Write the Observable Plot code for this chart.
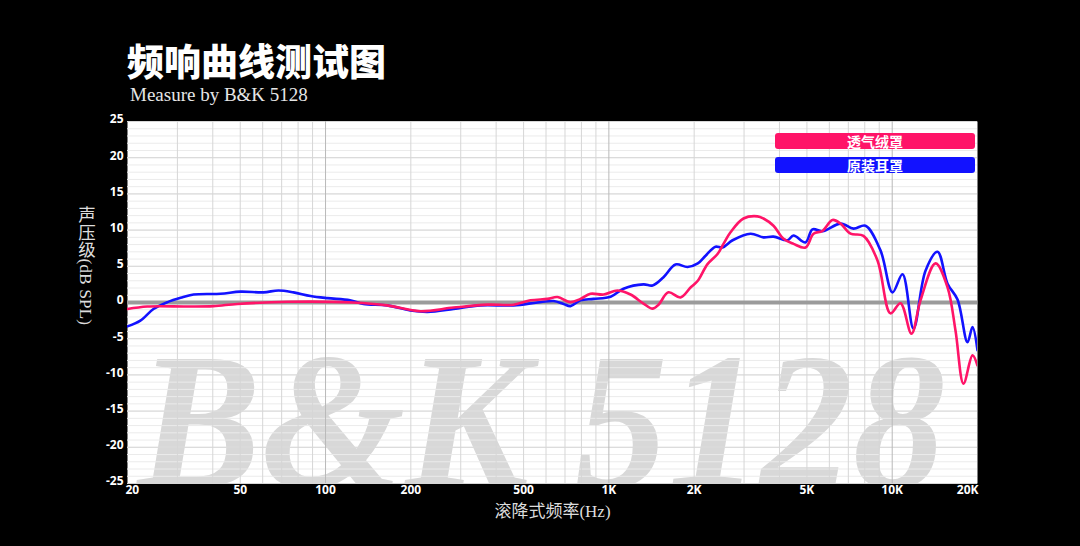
<!DOCTYPE html>
<html><head><meta charset="utf-8">
<script src="https://cdn.jsdelivr.net/npm/d3@7"></script>
<script src="https://cdn.jsdelivr.net/npm/@observablehq/plot@0.6"></script>
<style>
html,body{margin:0;padding:0;background:#000;}
#wrap{position:relative;width:1080px;height:546px;overflow:hidden;background:#000;}
#title{position:absolute;left:127px;top:42px;font:900 37px "Noto Sans CJK SC";color:#fff;line-height:1;white-space:nowrap;}
#sub{position:absolute;left:130px;top:85px;font:19px "Liberation Serif";color:#e6e6e6;line-height:1;white-space:nowrap;}
#chart{position:absolute;left:0;top:110px;}
#ylab{position:absolute;left:76px;top:206px;writing-mode:vertical-rl;font:17.5px "Liberation Serif","Noto Sans CJK SC";color:#ddd;line-height:1;white-space:nowrap;}
.leg{position:absolute;left:775px;width:200px;height:16px;border-radius:3px;color:#fff;font:bold 14px "Noto Sans CJK SC";text-align:center;line-height:16px;}
</style></head>
<body>
<div id="wrap">
  <div id="title">频响曲线测试图</div>
  <div id="sub">Measure by B&amp;K 5128</div>
  <div id="chart"></div>
  <div id="ylab">声压级(dB SPL)</div>
  <div class="leg" id="leg0" style="top:133px;"></div>
  <div class="leg" id="leg1" style="top:157px;"></div>
</div>
<script>
// ---- data ----
const seriesNames = ["透气绒罩", "原装耳罩"];
const seriesColors = ["#ff1468", "#1212ff"];

const redFreq = [20,23.5,32.6,40.2,48.9,73.4,125,165,216,283,373,461,529,607,659,732,794,861,958,1072,1192,1325,1426,1497,1623,1790,1946,2060,2229,2418,2538,2687,2986,3346,3513,3811,4134,4484,4944,5276,5676,6155,6570,7126,7918,8874,9862,10696,11696,12584,14222,15678,16730,17852,19204,20000];
const redDb   = [-0.9,-0.55,-0.55,-0.5,-0.2,0.1,0,-0.4,-1.2,-0.7,-0.3,-0.3,0.3,0.5,0.75,0.05,0.5,1.2,1.1,1.66,1.1,-0.15,-0.85,-0.3,1.4,0.7,2.1,3.0,5.3,6.7,8.1,9.7,11.6,11.9,11.6,10.6,8.8,8.1,7.6,9.5,9.9,11.4,10.9,9.5,9.2,5.8,-1.5,-0.1,-4.3,0.3,5.4,2.1,-3.9,-11.2,-7.3,-8.7];

const blueFreq = [20,22.2,24.7,27.7,30.8,34.2,42.6,50.1,60.4,68.2,77.1,88.5,101.6,122,136,165,199,229,283,352,461,560,638,692,732,794,883,1014,1126,1325,1426,1559,1719,1895,2060,2199,2378,2518,2733,3162,3513,3811,4270,4484,4944,5232,5676,6570,7302,8048,9092,10024,10872,11888,13108,14452,15678,17004,18438,19204,20000];
const blueDb   = [-3.3,-2.5,-0.9,0.05,0.65,1.1,1.2,1.5,1.4,1.66,1.4,0.9,0.6,0.3,-0.2,-0.4,-1.1,-1.3,-0.9,-0.4,-0.4,0,0.2,-0.2,-0.5,0.3,0.5,0.8,1.9,2.5,2.35,3.5,5.25,4.9,5.4,6.5,7.7,7.6,8.6,9.5,9.0,9.1,8.6,9.25,8.3,10.1,9.85,10.9,10.2,10.6,7.2,1.4,3.9,-3.6,4.4,7.0,2.6,0.4,-5.5,-3.4,-6.6];

const xTicks = [20,50,100,200,500,1000,2000,5000,10000,20000];
const xTickLabels = ["20","50","100","200","500","1K","2K","5K","10K","20K"];
const yTicks = [25,20,15,10,5,0,-5,-10,-15,-20,-25];
const gridFreqMinor = [30,40,50,60,70,80,90,200,300,400,500,600,700,800,900,2000,3000,4000,5000,6000,7000,8000,9000];
const gridFreqMajor = [100,1000,10000];
const gridDb = d3.range(-25, 26, 1);
const watermark = ["B&K 5128"];
const xLabel = "滚降式频率(Hz)";

// ---- build ----
const red = redFreq.map((f,i)=>({f, v: redDb[i]}));
const blue = blueFreq.map((f,i)=>({f, v: blueDb[i]}));
const xt = xTicks.map((t,i)=>({t, label: xTickLabels[i], i}));
const tickFont = {fontFamily: "Open Sans", fontWeight: "bold", fontSize: 12, fill: "#fff"};

const chart = Plot.plot({
  width: 1080, height: 436,
  marginTop: 11, marginBottom: 63, marginLeft: 127, marginRight: 103,
  x: {type: "log", domain: [20, 20000], axis: null},
  y: {domain: [-25, 25], axis: null},
  style: {background: "transparent", overflow: "visible"},
  marks: [
    Plot.frame({fill: "#fff", stroke: null}),
    Plot.text(watermark, {text: d=>d, frameAnchor: "bottom-left", lineAnchor: "bottom", textAnchor: "start",
      dx: 10, dy: 3, fontSize: 195, fontStyle: "italic", fontWeight: "bold", fontFamily: "Liberation Serif",
      fill: "#d8d8d8", className: "wm", clip: true}),
    Plot.ruleY(gridDb, {y: d=>d, stroke: "#ebebeb", strokeWidth: 1}),
    Plot.ruleY(gridDb.filter(d=>d%5===0), {y: d=>d, stroke: "#d7d7d7", strokeWidth: 1}),
    Plot.ruleX(gridFreqMinor, {x: d=>d, stroke: "#d6d6d6", strokeWidth: 1}),
    Plot.ruleX(gridFreqMajor, {x: d=>d, stroke: "#b9b9b9", strokeWidth: 1}),
    Plot.ruleY([0], {y: d=>d, stroke: "#9b9b9b", strokeWidth: 4}),
    Plot.line(blue, {x: "f", y: "v", stroke: seriesColors[1], strokeWidth: 2.6, curve: "catmull-rom", clip: true}),
    Plot.line(red, {x: "f", y: "v", stroke: seriesColors[0], strokeWidth: 2.6, curve: "catmull-rom", clip: true}),
    Plot.text(yTicks, {y: d=>d, text: d=>String(d), frameAnchor: "left", textAnchor: "end", dx: -4, dy: -2, ...tickFont}),
    Plot.text(xt.filter(d=>d.i===0), {x: "t", text: "label", frameAnchor: "bottom", textAnchor: "start", dx: -2, dy: 10, ...tickFont}),
    Plot.text(xt.filter(d=>d.i>0 && d.i<xt.length-1), {x: "t", text: "label", frameAnchor: "bottom", dy: 10, ...tickFont}),
    Plot.text(xt.filter(d=>d.i===xt.length-1), {x: "t", text: "label", frameAnchor: "bottom", textAnchor: "end", dx: 1, dy: 10, ...tickFont}),
    Plot.text([xLabel], {text: d=>d, frameAnchor: "bottom", dy: 33, fontSize: 17, fill: "#dddddd",
      fontFamily: "Liberation Serif, Noto Sans CJK SC"})
  ]
});
d3.select(chart).selectAll(".wm text").attr("textLength", 808).attr("lengthAdjust", "spacingAndGlyphs");
document.getElementById("chart").appendChild(chart);

document.getElementById("leg0").textContent = seriesNames[0];
document.getElementById("leg0").style.background = seriesColors[0];
document.getElementById("leg1").textContent = seriesNames[1];
document.getElementById("leg1").style.background = seriesColors[1];
</script>
</body></html>
